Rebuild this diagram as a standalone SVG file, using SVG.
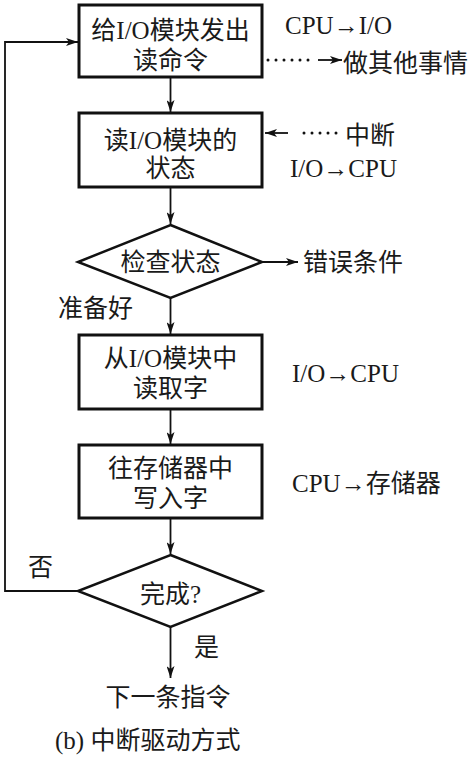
<svg xmlns="http://www.w3.org/2000/svg" width="475" height="759" viewBox="0 0 475 759">
<defs>
<marker id="ah" viewBox="0 0 12 8" refX="12" refY="4" markerWidth="12" markerHeight="8" markerUnits="userSpaceOnUse" orient="auto">
<path d="M0,0 L12,4 L0,8 L3,4 Z" fill="#111"/>
</marker>
</defs>
<style>
.box{fill:#fff;stroke:#111;stroke-width:3}
.dia{fill:#fff;stroke:#111;stroke-width:2.5}
.ln{fill:none;stroke:#111;stroke-width:1.8}
.dot{fill:none;stroke:#111;stroke-width:3;stroke-dasharray:0 8;stroke-linecap:round}
text{font-family:"Liberation Serif","Noto Sans CJK SC",serif;font-size:25px;fill:#1a1a1a}
.c{text-anchor:middle}
</style>
<rect width="475" height="759" fill="#fff"/>
<g id="connectors">
<line class="ln" x1="170.5" y1="77" x2="170.5" y2="112" marker-end="url(#ah)"/>
<line class="ln" x1="170.5" y1="187" x2="170.5" y2="224" marker-end="url(#ah)"/>
<line class="ln" x1="170.5" y1="298" x2="170.5" y2="334" marker-end="url(#ah)"/>
<line class="ln" x1="170.5" y1="409" x2="170.5" y2="444" marker-end="url(#ah)"/>
<line class="ln" x1="170.5" y1="518" x2="170.5" y2="554" marker-end="url(#ah)"/>
<line class="ln" x1="170.5" y1="627" x2="170.5" y2="678" marker-end="url(#ah)"/>
<line class="ln" x1="262" y1="262" x2="298" y2="262" marker-end="url(#ah)"/>
<polyline class="ln" points="78,591 5,591 5,42 78,42" marker-end="url(#ah)"/>
<line class="dot" x1="268" y1="60" x2="316" y2="60"/>
<line class="ln" x1="318" y1="60" x2="342" y2="60" marker-end="url(#ah)"/>
<line class="dot" x1="336" y1="133" x2="296" y2="133"/>
<line class="ln" x1="288" y1="133" x2="265" y2="133" marker-end="url(#ah)"/>
</g>
<g id="n1">
<rect class="box" x="79" y="5" width="183" height="72"/>
<text class="c" x="170.5" y="39">给I/O模块发出</text>
<text class="c" x="170.5" y="69">读命令</text>
</g>
<g id="n2">
<rect class="box" x="79" y="113" width="183" height="74"/>
<text class="c" x="170.5" y="149">读I/O模块的</text>
<text class="c" x="170.5" y="177">状态</text>
</g>
<g id="n3">
<polygon class="dia" points="170.5,225 262,262 170.5,298 78,262"/>
<text class="c" x="170.5" y="271">检查状态</text>
</g>
<g id="n4">
<rect class="box" x="79" y="335" width="183" height="74"/>
<text class="c" x="170.5" y="367">从I/O模块中</text>
<text class="c" x="170.5" y="397">读取字</text>
</g>
<g id="n5">
<rect class="box" x="79" y="445" width="183" height="73"/>
<text class="c" x="170.5" y="477">往存储器中</text>
<text class="c" x="170.5" y="507">写入字</text>
</g>
<g id="n6">
<polygon class="dia" points="170.5,555 262,591 170.5,627 78,591"/>
<text class="c" x="170.5" y="603">完成?</text>
</g>
<g id="labels">
<text x="285" y="34">CPU→I/O</text>
<text x="343" y="72">做其他事情</text>
<text x="345" y="144">中断</text>
<text x="290" y="177">I/O→CPU</text>
<text x="303" y="271">错误条件</text>
<text x="58" y="317">准备好</text>
<text x="292" y="382">I/O→CPU</text>
<text x="292" y="492">CPU→存储器</text>
<text x="28" y="576">否</text>
<text x="194" y="656">是</text>
<text class="c" x="168" y="706">下一条指令</text>
<text x="55" y="749">(b) 中断驱动方式</text>
</g>
</svg>
